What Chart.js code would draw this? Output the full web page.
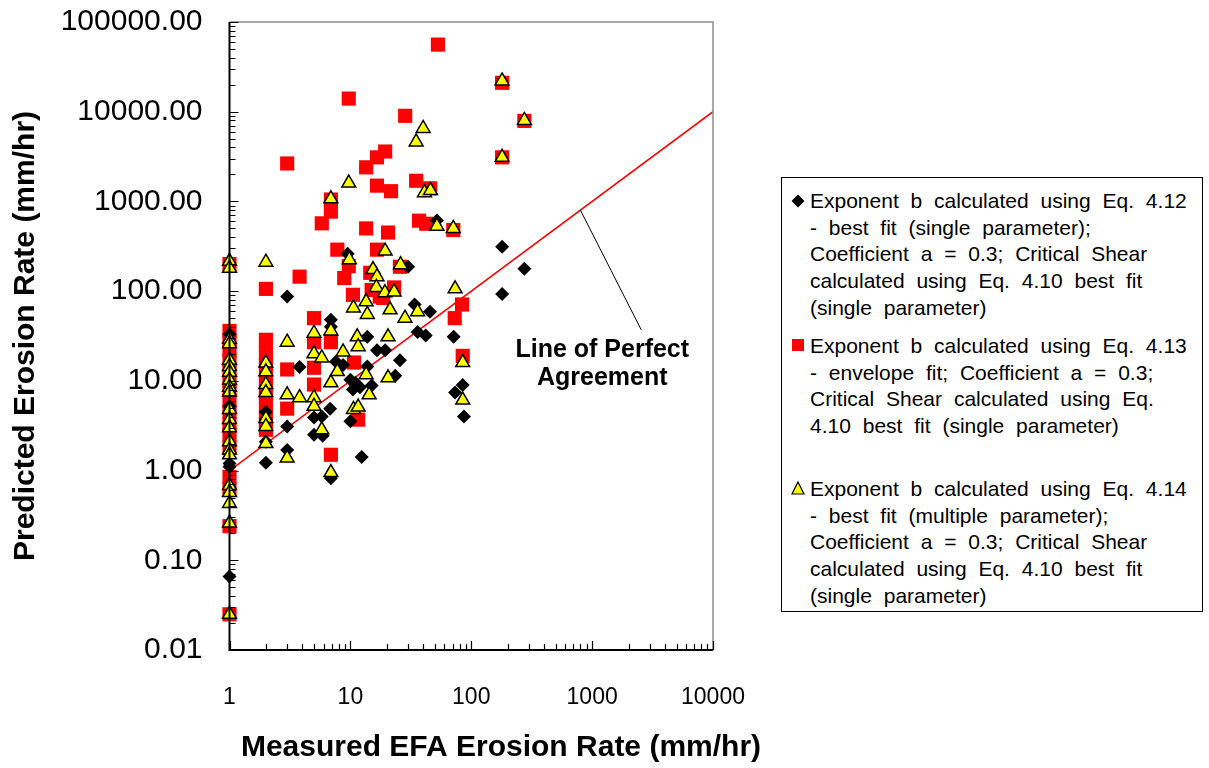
<!DOCTYPE html>
<html>
<head>
<meta charset="utf-8">
<title>Predicted vs Measured EFA Erosion Rate</title>
<script src="https://cdn.jsdelivr.net/npm/chart.js@4.4.1/dist/chart.umd.min.js"></script>
<style>
  html, body { margin: 0; padding: 0; background: #fff; }
  #wrap { position: relative; width: 1209px; height: 768px; overflow: hidden; }
  #chart { position: absolute; left: 0; top: 0; }
  #legend {
    position: absolute; left: 781px; top: 177px; width: 422px; height: 435px;
    box-sizing: border-box; border: 1px solid #000; background: #fff;
    font-family: 'Liberation Sans', Arial, sans-serif; font-size: 21px; color: #000;
  }
  .entry { position: absolute; left: 28px; }
  .entry div { height: 26.7px; line-height: 26.7px; white-space: nowrap; word-spacing: 6px; }
  .sym { position: absolute; left: 9px; }
</style>
</head>
<body>
<div id="wrap">
  <canvas id="chart" width="1209" height="768"></canvas>
  <div id="legend">
    <svg class="sym" style="top:16px" width="14" height="14" viewBox="0 0 14 14"><polygon points="7,0.5 13.5,7 7,13.5 0.5,7" fill="#000"/></svg>
    <div class="entry" style="top:10px">
      <div>Exponent b calculated using Eq. 4.12</div>
      <div>- best fit (single parameter);</div>
      <div>Coefficient a = 0.3; Critical Shear</div>
      <div>calculated using Eq. 4.10 best fit</div>
      <div>(single parameter)</div>
    </div>
    <svg class="sym" style="top:160px" width="14" height="14" viewBox="0 0 14 14"><rect x="1" y="1" width="12" height="12" fill="#ff0000"/></svg>
    <div class="entry" style="top:155px">
      <div>Exponent b calculated using Eq. 4.13</div>
      <div>- envelope fit; Coefficient a = 0.3;</div>
      <div>Critical Shear calculated using Eq.</div>
      <div>4.10 best fit (single parameter)</div>
    </div>
    <svg class="sym" style="top:303px" width="14" height="14" viewBox="0 0 14 14"><polygon points="7,1 13,13 1,13" fill="#ffff00" stroke="#000" stroke-width="1.2"/></svg>
    <div class="entry" style="top:298px">
      <div>Exponent b calculated using Eq. 4.14</div>
      <div>- best fit (multiple parameter);</div>
      <div>Coefficient a = 0.3; Critical Shear</div>
      <div>calculated using Eq. 4.10 best fit</div>
      <div>(single parameter)</div>
    </div>
  </div>
</div>
<script>
// Measured (x) vs predicted (y) erosion rates, mm/hr, for three ways of computing exponent b.
const eq412Points = [
  [1,33],[1,5.2],[1,4.6],[1,1.2],[1,1.1],[1,0.066],
  [2,4.5],[2,3.7],[2,2.1],[2,1.22],
  [3,87],[3,3.1],[3,1.7],
  [3.8,14.3],
  [5,3.9],[5,2.5],[5.8,4.0],[5.9,2.45],
  [6.9,48],[6.9,40],[6.8,4.9],[6.9,0.82],
  [7.6,16.3],[8.7,15],[9.5,261],
  [10,10.3],[10.5,8],[10,3.55],[11,9.5],[12,8.5],[15,8.9],
  [12.4,1.42],
  [13.8,31],[13.8,14.5],[16.6,22],[19.4,22],
  [25.7,17],[23.5,11.4],[30,187],
  [34,71],[45.5,59],[36,35],[42,32],[71.5,31],
  [85,9],[73.5,7.4],[87,4.0],
  [52,612],[180,313],[275,178],[180,93]
];

const eq413Points = [
  [1,200],[1,36],[1,28],[1,22],[1,17],[1,13],[1,10],[1,8],[1,6],[1,4.5],[1,3.3],[1,2.5],[1,1.8],
  [1,0.85],[1,0.62],[1,0.24],[1,0.025],
  [2,106],[2,28.7],[2,20.6],[2,14.7],[2,10.3],[2,7.4],[2,5.4],[2,3.9],[2,2.85],
  [3,2650],[3,13.4],[3,4.9],
  [3.8,145],
  [5,50],[5,27],[5,14],[5,9.1],
  [5.8,570],
  [6.9,1050],[6.9,770],[6.9,27],[6.9,1.5],
  [7.8,290],[8.9,140],
  [9.7,14000],[9.7,190],[10.5,91],[10.7,16],[11.6,3.7],
  [13.5,2400],[13.5,500],[14.6,160],[15,103],
  [16.6,3100],[16.6,1500],[16.6,290],[17.5,87],
  [19.4,3600],[18.7,84],[20.5,450],[21.7,1300],[23,110],[25.7,187],
  [28.4,9000],[35,1700],[37,610],[42.4,564],[45.7,1400],[53,56000],
  [71,480],[73,50],[84,71],[85,19],
  [180,21000],[180,3100],[275,7900]
];

const eq414Points = [
  [1,215],[1,180],[1,29],[1,26],[1,17],[1,14.5],[1,12.5],[1,10.2],[1,8.5],[1,7.5],[1,4.8],[1,3.7],
  [1,3],[1,2.1],[1,1.7],[1,1.5],[1,0.68],[1,0.57],[1,0.43],[1,0.26],[1,0.025],
  [2,210],[2,15.8],[2,12.6],[2,9.1],[2,7.4],[2,3.8],[2,3.1],[2,2.0],
  [3,27],[3,7.0],[3,1.38],
  [3.8,6.5],
  [5,34],[5,20],[5,6.5],[5,5.2],
  [5.8,18],[5.8,2.85],
  [6.9,1070],[6.9,36],[6.9,9.5],[6.9,0.95],
  [8.7,21],[7.8,12.7],
  [9.7,1600],[9.8,224],
  [10.6,65],[10.6,4.8],
  [11.4,31],[11.6,24],[11.6,5.1],
  [13.5,76],[13.8,55],[13.5,11.7],[14.3,7.0],
  [15.4,174],[16.6,145],[16.4,110],[19.3,96],[23,98],
  [19.4,280],[20.5,31],[20.5,10.8],[21.3,62],
  [26,197],[28.3,50],[36,59],
  [35,4600],[40,6500],[41,1250],[46,1320],
  [52,530],[71,500],[73.5,106],
  [85,16],[85,6.1],
  [180,22000],[180,3100],[275,8000]
];

// 1:1 reference line
const perfectAgreement = [[1,1],[10000,10000]];

const xDecades = [1, 10, 100, 1000, 10000];
const xTickLabels = ['1', '10', '100', '1000', '10000'];
const yDecades = [0.01, 0.1, 1, 10, 100, 1000, 10000, 100000];
const yTickLabels = ['0.01', '0.10', '1.00', '10.00', '100.00', '1000.00', '10000.00', '100000.00'];

const xTitle = 'Measured EFA Erosion Rate (mm/hr)';
const yTitle = 'Predicted Erosion Rate (mm/hr)';
const noteLines = ['Line of Perfect', 'Agreement'];
const noteAnchor = { x: 1213, y: 15.5 };      // centre of the note text
const leaderFrom = { x: 2550, y: 37 };         // leader line start (below note)
const leaderTo = { x: 800, y: 800 };           // leader line end, on the 1:1 line

const FONT = "'Liberation Sans', Arial, sans-serif";

const toXY = pts => pts.map(p => ({ x: p[0], y: p[1] }));

// every 1..9 x 10^k value inside [min, max], for the minor tick marks
function logTickValues(min, max) {
  const out = [];
  for (let e = Math.floor(Math.log10(min)); e <= Math.ceil(Math.log10(max)); e++) {
    for (let m = 1; m <= 9; m++) {
      const v = m * Math.pow(10, e);
      if (v >= min * 0.999 && v <= max * 1.001) out.push(v);
    }
  }
  return out;
}
const isDecade = v => Math.abs(Math.log10(v) - Math.round(Math.log10(v))) < 1e-6;

const axisDecor = {
  id: 'axisDecor',
  afterDatasetsDraw(chart) {
    const { ctx, chartArea: a, scales: { x, y } } = chart;
    ctx.save();
    // plot-area frame: grey top and right edges
    ctx.strokeStyle = '#8a8a8a';
    ctx.lineWidth = 1.5;
    ctx.beginPath();
    ctx.moveTo(a.left, a.top); ctx.lineTo(a.right, a.top); ctx.lineTo(a.right, a.bottom);
    ctx.stroke();
    // inward tick marks
    ctx.strokeStyle = '#000';
    ctx.lineWidth = 1.2;
    ctx.beginPath();
    x.ticks.forEach(t => {
      const px = Math.round(x.getPixelForValue(t.value)) + 0.5;
      const len = isDecade(t.value) ? 9 : 6;
      ctx.moveTo(px, a.bottom); ctx.lineTo(px, a.bottom - len);
    });
    y.ticks.forEach(t => {
      const py = Math.round(y.getPixelForValue(t.value)) + 0.5;
      const len = isDecade(t.value) ? 9 : 6;
      ctx.moveTo(a.left, py); ctx.lineTo(a.left + len, py);
    });
    ctx.stroke();
    // black left and bottom axis lines
    ctx.lineWidth = 2;
    ctx.beginPath();
    ctx.moveTo(a.left, a.top); ctx.lineTo(a.left, a.bottom); ctx.lineTo(a.right, a.bottom);
    ctx.stroke();

    // x axis title
    ctx.fillStyle = '#000';
    ctx.font = `bold 30px ${FONT}`;
    ctx.textAlign = 'center';
    ctx.textBaseline = 'middle';
    ctx.fillText(xTitle, 501, 748);

    // note with leader line
    ctx.font = `bold 25px ${FONT}`;
    const nx = x.getPixelForValue(noteAnchor.x), ny = y.getPixelForValue(noteAnchor.y);
    ctx.fillText(noteLines[0], nx, ny - 14);
    ctx.fillText(noteLines[1], nx, ny + 14);
    ctx.lineWidth = 1;
    ctx.beginPath();
    ctx.moveTo(x.getPixelForValue(leaderFrom.x), y.getPixelForValue(leaderFrom.y));
    ctx.lineTo(x.getPixelForValue(leaderTo.x), y.getPixelForValue(leaderTo.y));
    ctx.stroke();
    ctx.restore();
  }
};

new Chart(document.getElementById('chart'), {
  type: 'scatter',
  data: {
    datasets: [
      {
        label: 'Eq. 4.14',
        data: toXY(eq414Points),
        pointStyle: 'triangle',
        pointRadius: 8,
        backgroundColor: '#ffff00',
        borderColor: '#000',
        borderWidth: 1.5,
        clip: false,
        order: 1
      },
      {
        label: 'Eq. 4.12',
        data: toXY(eq412Points),
        pointStyle: 'rectRot',
        pointRadius: 7,
        backgroundColor: '#000',
        borderColor: '#000',
        borderWidth: 0,
        clip: false,
        order: 2
      },
      {
        label: 'Eq. 4.13',
        data: toXY(eq413Points),
        pointStyle: 'rect',
        pointRadius: 10,
        backgroundColor: '#ff0000',
        borderColor: '#ff0000',
        borderWidth: 0,
        clip: false,
        order: 3
      },
      {
        type: 'line',
        label: 'Line of Perfect Agreement',
        data: toXY(perfectAgreement),
        borderColor: '#ff0000',
        borderWidth: 1.5,
        pointRadius: 0,
        fill: false,
        order: 4
      }
    ]
  },
  options: {
    responsive: false,
    animation: false,
    events: [],
    layout: { padding: { top: 22, right: 496, bottom: 0, left: 0 } },
    plugins: { legend: { display: false }, tooltip: { enabled: false } },
    scales: {
      x: {
        type: 'logarithmic',
        min: 1, max: 10000,
        afterBuildTicks: s => { s.ticks = logTickValues(1, 10000).map(v => ({ value: v })); },
        afterFit: s => { s.height = 118; s.paddingLeft = 0; s.paddingRight = 0; },
        grid: { display: false, drawTicks: false },
        border: { display: false },
        ticks: {
          autoSkip: false, maxRotation: 0, padding: 34,
          color: '#000', font: { family: FONT, size: 23 },
          callback: v => { const i = xDecades.findIndex(d => Math.abs(d - v) < d * 1e-6); return i >= 0 ? xTickLabels[i] : ''; }
        }
      },
      y: {
        type: 'logarithmic',
        min: 0.01, max: 100000,
        afterBuildTicks: s => { s.ticks = logTickValues(0.01, 100000).map(v => ({ value: v })); },
        afterFit: s => { s.width = 229.5; s.paddingTop = 0; s.paddingBottom = 0; },
        grid: { display: false, drawTicks: false },
        border: { display: false },
        title: {
          display: true, text: yTitle, color: '#000',
          font: { family: FONT, size: 30, weight: 'bold' },
          padding: { top: 8, bottom: 0 }
        },
        ticks: {
          autoSkip: false, padding: 27,
          color: '#000', font: { family: FONT, size: 30 },
          callback: v => { const i = yDecades.findIndex(d => Math.abs(d - v) < d * 1e-6); return i >= 0 ? yTickLabels[i] : ''; }
        }
      }
    }
  },
  plugins: [axisDecor]
});
</script>
</body>
</html>
